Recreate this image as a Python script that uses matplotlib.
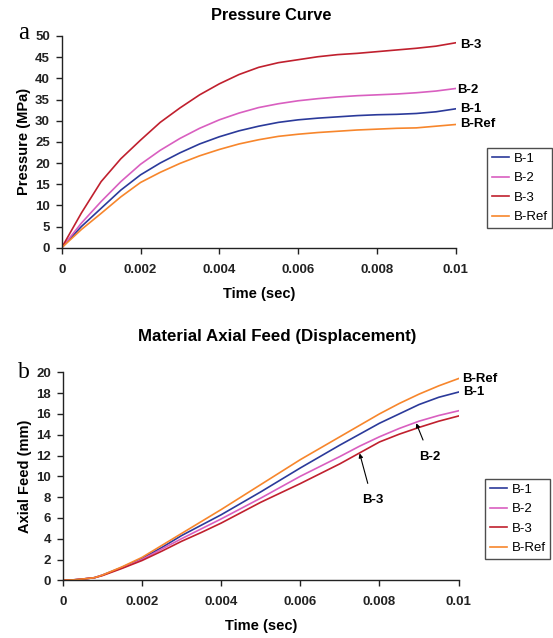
import matplotlib
matplotlib.use("Agg")
import matplotlib.pyplot as plt
import numpy as np

plt.rcParams['font.family'] = ['Liberation Sans', 'DejaVu Sans']

# ---- data: Pressure curve (a) ----
t_p = [0, 0.0005, 0.001, 0.0015, 0.002, 0.0025, 0.003, 0.0035, 0.004, 0.0045,
       0.005, 0.0055, 0.006, 0.0065, 0.007, 0.0075, 0.008, 0.0085, 0.009, 0.0095, 0.01]
p_b1 = [0, 5.0, 9.3, 13.6, 17.2, 20.0, 22.4, 24.5, 26.2, 27.6,
        28.7, 29.6, 30.2, 30.6, 30.9, 31.2, 31.4, 31.5, 31.7, 32.1, 32.8]
p_b2 = [0, 5.8, 10.9, 15.6, 19.7, 23.0, 25.8, 28.2, 30.2, 31.8,
        33.1, 34.0, 34.7, 35.2, 35.6, 35.9, 36.1, 36.3, 36.6, 37.0, 37.6]
p_b3 = [0, 8.2, 15.6, 21.0, 25.4, 29.6, 33.0, 36.1, 38.7, 40.9,
        42.6, 43.7, 44.4, 45.1, 45.6, 45.9, 46.3, 46.7, 47.1, 47.6, 48.4]
p_ref = [0, 4.3, 8.1, 12.0, 15.4, 17.8, 19.9, 21.7, 23.2, 24.5,
         25.5, 26.3, 26.8, 27.2, 27.5, 27.8, 28.0, 28.2, 28.3, 28.7, 29.1]

# ---- data: Axial feed (b) ----
t_d = [0, 0.0003, 0.0005, 0.0008, 0.001, 0.0015, 0.002, 0.0025, 0.003, 0.0035, 0.004,
       0.0045, 0.005, 0.0055, 0.006, 0.0065, 0.007, 0.0075, 0.008, 0.0085, 0.009, 0.0095, 0.01]
d_b1 = [0, 0.05, 0.12, 0.25, 0.5, 1.25, 2.1, 3.15, 4.3, 5.3, 6.3,
        7.4, 8.5, 9.65, 10.8, 11.9, 13.0, 14.05, 15.1, 16.0, 16.9, 17.6, 18.1]
d_b2 = [0, 0.05, 0.12, 0.25, 0.5, 1.2, 2.0, 3.0, 4.0, 4.95, 5.9,
        6.9, 7.9, 8.95, 10.0, 10.95, 11.9, 12.9, 13.8, 14.6, 15.3, 15.85, 16.3]
d_b3 = [0, 0.05, 0.12, 0.25, 0.45, 1.15, 1.9, 2.8, 3.75, 4.6, 5.5,
        6.5, 7.5, 8.4, 9.3, 10.25, 11.2, 12.25, 13.3, 14.05, 14.7, 15.3, 15.8]
d_ref = [0, 0.05, 0.12, 0.25, 0.5, 1.3, 2.2, 3.35, 4.5, 5.65, 6.8,
         8.0, 9.2, 10.4, 11.6, 12.7, 13.8, 14.9, 16.0, 17.0, 17.9, 18.7, 19.4]

series = ['B-1', 'B-2', 'B-3', 'B-Ref']
colors = {'B-1': '#2b3a9a', 'B-2': '#d95fc0', 'B-3': '#c0202e', 'B-Ref': '#f7862c'}

x_ticks = [0, 0.002, 0.004, 0.006, 0.008, 0.01]
x_tick_labels = ['0', '0.002', '0.004', '0.006', '0.008', '0.01']

W, H = 553, 638
fig = plt.figure(figsize=(W / 100, H / 100), dpi=100)


def style_axes(ax):
    for s in ['top', 'right']:
        ax.spines[s].set_visible(False)
    for s in ['left', 'bottom']:
        ax.spines[s].set_linewidth(1.0)
        ax.spines[s].set_color('#222222')
    ax.tick_params(direction='out', length=4, width=1.0, colors='#222222',
                   labelsize=9.5)
    ax.tick_params(axis='x', pad=7.5)
    ax.tick_params(axis='y', pad=4.5)
    ax.set_xticks(x_ticks)
    ax.set_xticklabels(x_tick_labels, fontweight='bold', fontsize=9.5)
    ax.set_xlim(0, 0.01)


def make_legend(ax, x, y):
    leg = ax.legend(loc='upper left', bbox_to_anchor=(x / W, 1 - y / H),
                    bbox_transform=fig.transFigure, frameon=True, fancybox=False,
                    fontsize=9.5, handlelength=1.35, handletextpad=0.3,
                    labelspacing=0.55, borderpad=0.35, borderaxespad=0)
    leg.get_frame().set_edgecolor('#222222')
    leg.get_frame().set_linewidth(1.0)
    return leg


# ---- top axes ----
ax1 = fig.add_axes([61.7 / W, 1 - 247.7 / H, (455.7 - 61.7) / W, (247.7 - 36.0) / H])
for name, vals in zip(series, [p_b1, p_b2, p_b3, p_ref]):
    ax1.plot(t_p, vals, color=colors[name], lw=1.2, label=name)
ax1.set_ylim(0, 50)
ax1.set_yticks(range(0, 51, 5))
style_axes(ax1)
ax1.set_yticklabels([str(v) for v in range(0, 51, 5)], fontweight='bold', fontsize=9.5)
ax1.set_xlabel('Time (sec)', fontweight='bold', fontsize=10.5, labelpad=8)
ax1.set_ylabel('Pressure (MPa)', fontweight='bold', fontsize=10.5, labelpad=3)
for name, (xx, yy) in {'B-3': (0.01012, 47.9), 'B-2': (0.01003, 37.2),
                       'B-1': (0.01012, 32.7), 'B-Ref': (0.0101, 29.1)}.items():
    ax1.text(xx, yy, name, fontweight='bold', fontsize=9.5, ha='left', va='center',
             clip_on=False)
make_legend(ax1, 487, 148)

# ---- bottom axes ----
ax2 = fig.add_axes([62.8 / W, 1 - 580.3 / H, (458.6 - 62.8) / W, (580.3 - 372.3) / H])
for name, vals in zip(series, [d_b1, d_b2, d_b3, d_ref]):
    ax2.plot(t_d, vals, color=colors[name], lw=1.2, label=name)
ax2.set_ylim(0, 20)
ax2.set_yticks(range(0, 21, 2))
style_axes(ax2)
ax2.set_yticklabels([str(v) for v in range(0, 21, 2)], fontweight='bold', fontsize=9.5)
ax2.set_xlabel('Time (sec)', fontweight='bold', fontsize=10.5, labelpad=8)
ax2.set_ylabel('Axial Feed (mm)', fontweight='bold', fontsize=10.5, labelpad=3)
ax2.text(0.01009, 19.4, 'B-Ref', fontweight='bold', fontsize=9.5, ha='left', va='center',
         clip_on=False)
ax2.text(0.01012, 18.1, 'B-1', fontweight='bold', fontsize=9.5, ha='left', va='center',
         clip_on=False)
ax2.annotate('B-2', xy=(0.00893, 15.1), xytext=(0.00927, 11.9), fontweight='bold',
             fontsize=9.5, ha='center', va='center',
             arrowprops=dict(arrowstyle='-|>', color='black', lw=0.8,
                             mutation_scale=6, shrinkA=6, shrinkB=0))
ax2.annotate('B-3', xy=(0.0075, 12.2), xytext=(0.00782, 7.7), fontweight='bold',
             fontsize=9.5, ha='center', va='center',
             arrowprops=dict(arrowstyle='-|>', color='black', lw=0.8,
                             mutation_scale=6, shrinkA=6, shrinkB=0))
make_legend(ax2, 485, 479)

# ---- titles and panel letters ----
fig.text(271.6 / W, 1 - 16 / H, 'Pressure Curve', fontweight='bold', fontsize=11.8,
         ha='center', va='center')
fig.text(277 / W, 1 - 337 / H, 'Material Axial Feed (Displacement)', fontweight='bold',
         fontsize=12.2, ha='center', va='center')
fig.text(24 / W, 1 - 33 / H, 'a', family=['Liberation Serif', 'DejaVu Serif'],
         fontsize=18, ha='center', va='center')
fig.text(24 / W, 1 - 372 / H, 'b', family=['Liberation Serif', 'DejaVu Serif'],
         fontsize=17, ha='center', va='center')

fig.savefig('out.png', dpi=100)
